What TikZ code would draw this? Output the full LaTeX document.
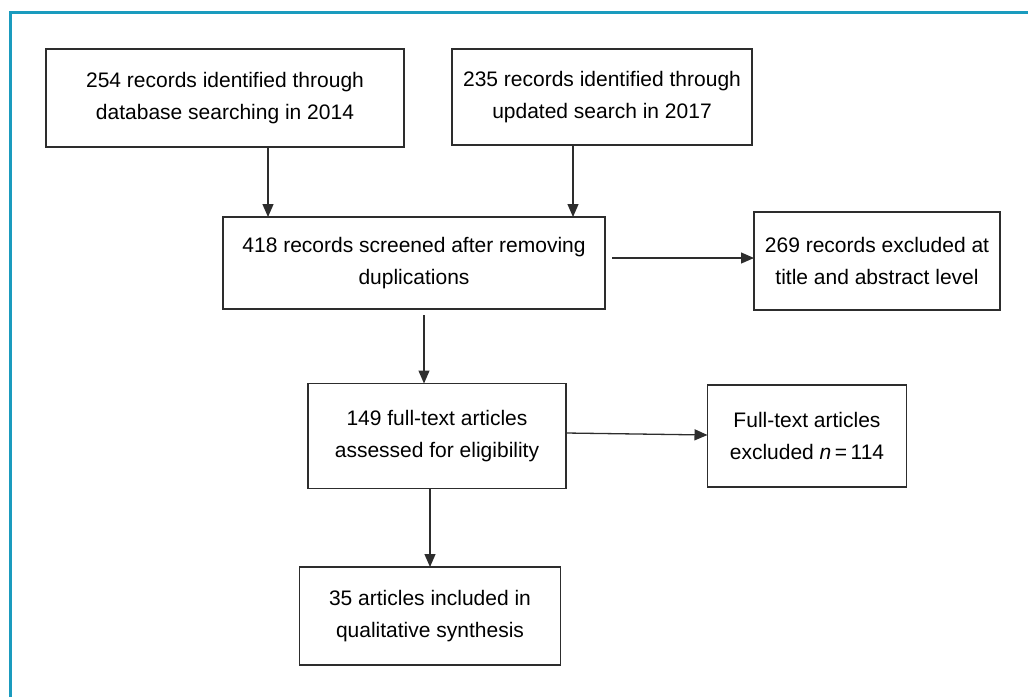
\documentclass[tikz,border=0pt]{standalone}
\usepackage{fontspec}
\setmainfont{Liberation Sans}
\usetikzlibrary{arrows.meta}
\definecolor{frameteal}{RGB}{26,155,190}
\definecolor{boxgray}{RGB}{45,45,45}
\begin{document}
\begin{tikzpicture}[x = 1pt, y = -1pt,
  box/.style = {draw = boxgray, line width = 1.3pt, inner sep = 0pt, outer sep = 0pt,
    align = center, font = \fontsize{21}{31.5}\selectfont},
  arr/.style = {draw = boxgray, line width = 1.3pt, -{Triangle[length = 13pt, width = 11pt]}}]
\useasboundingbox (0,0) rectangle (1028,697);
%% outer frame, top and left only
\draw[frameteal, line width = 3pt] (10,697) -- (10,12) -- (1028,12);
%% boxes
\draw (225,98) node[box, minimum width = 358pt, minimum height = 98pt] (b1)
  {254 records identified through\\database searching in 2014};
\draw (602,97) node[box, minimum width = 300pt, minimum height = 96pt] (b2)
  {235 records identified through\\updated search in 2017};
\draw (414,263) node[box, minimum width = 382pt, minimum height = 92pt] (b3)
  {418 records screened after removing\\duplications};
\draw (877,261) node[box, minimum width = 246pt, minimum height = 98pt] (b4)
  {269 records excluded at\\title and abstract level};
\draw (437,436) node[box, minimum width = 258pt, minimum height = 105pt] (b5)
  {149 full-text articles\\assessed for eligibility};
\draw (807,436) node[box, minimum width = 199pt, minimum height = 102pt] (b6)
  {Full-text articles\\excluded \textit{n}\,=\,114};
\draw (430,616) node[box, minimum width = 261pt, minimum height = 98pt] (b7)
  {35 articles included in\\qualitative synthesis};
%% connectors
\draw[arr] ([xshift = 43pt]b1.south) -- ([xshift = 43pt]b1.south |- b3.north);
\draw[arr] ([xshift = -29pt]b2.south) -- ([xshift = -29pt]b2.south |- b3.north);
\draw[arr] ([xshift = 7pt]b3.east |- 0,258) -- (b4.west |- 0,258);
\draw[arr] ([xshift = 10pt, yshift = -6pt]b3.south) -- ([xshift = 10pt]b3.south |- b5.north);
\draw[arr] ([yshift = 3pt]b5.east) -- ([yshift = 1pt]b6.west);
\draw[arr] ([xshift = -7pt]b5.south) -- ([xshift = -7pt]b5.south |- b7.north);
\end{tikzpicture}
\end{document}
